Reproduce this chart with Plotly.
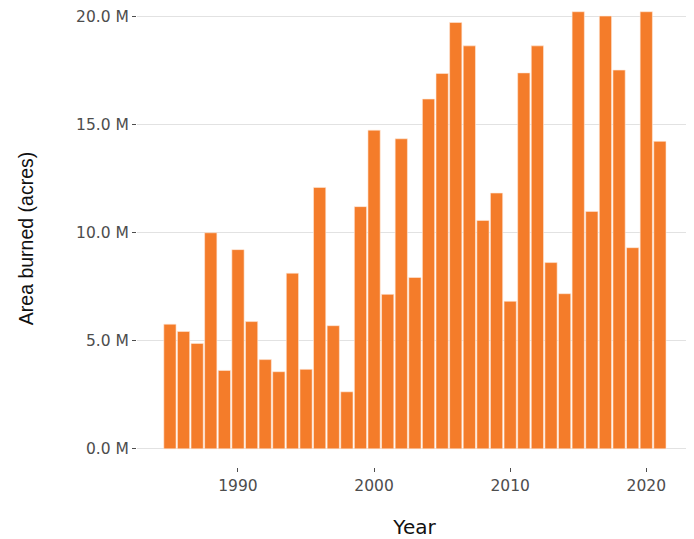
import plotly.graph_objects as go

years = list(range(1985, 2022))
area_millions = [5.77, 5.43, 4.88, 10.0, 3.63, 9.22, 5.89, 4.13, 3.57, 8.13,
                 3.68, 12.1, 5.70, 2.64, 11.21, 14.75, 7.15, 14.35, 7.93, 16.19,
                 17.37, 19.73, 18.65, 10.57, 11.84, 6.83, 17.4, 18.65, 8.62, 7.18,
                 20.23, 10.99, 20.03, 17.53, 9.31, 20.23, 14.23]
area_acres = [v * 1e6 for v in area_millions]

y_tick_vals = [0, 5e6, 10e6, 15e6, 20e6]
y_tick_text = ["0.0 M", "5.0 M", "10.0 M", "15.0 M", "20.0 M"]
x_tick_vals = [1990, 2000, 2010, 2020]

fig = go.Figure(go.Bar(
    x=years, y=area_acres, width=0.9,
    marker=dict(color="#F47C2A", line=dict(color="#FFE9DA", width=0.6)),
))

# page body has an 8px margin; figure size and margins compensate for it
fig.update_layout(
    width=686, height=531,
    margin=dict(l=129, r=2, t=0, b=71),
    plot_bgcolor="white", paper_bgcolor="white",
    showlegend=False,
    font=dict(family="DejaVu Sans", color="#4D4D4D"),
)
fig.update_xaxes(
    range=[1982.58, 2023.36], tickvals=x_tick_vals,
    showgrid=False, zeroline=False, showline=False,
    ticks="outside", ticklen=4, tickcolor="#4D4D4D", tickwidth=1,
    tickfont=dict(size=15.5, family="DejaVu Sans", color="#4D4D4D"),
    title=dict(text="Year", font=dict(size=20, family="DejaVu Sans", color="#111111"), standoff=30),
)
fig.update_yaxes(
    range=[-0.84e6, 20.31e6], tickvals=y_tick_vals, ticktext=y_tick_text,
    showgrid=True, gridcolor="#E2E2E2", gridwidth=1.2, zeroline=False, showline=False,
    ticks="outside", ticklen=4, tickcolor="#4D4D4D", tickwidth=1,
    ticklabeloverflow="allow",
    tickfont=dict(size=15.5, family="DejaVu Sans", color="#4D4D4D"),
    title=dict(text="Area burned (acres)", font=dict(size=19.5, family="Liberation Sans", color="#111111"), standoff=37),
)

fig.write_html("out.html")
